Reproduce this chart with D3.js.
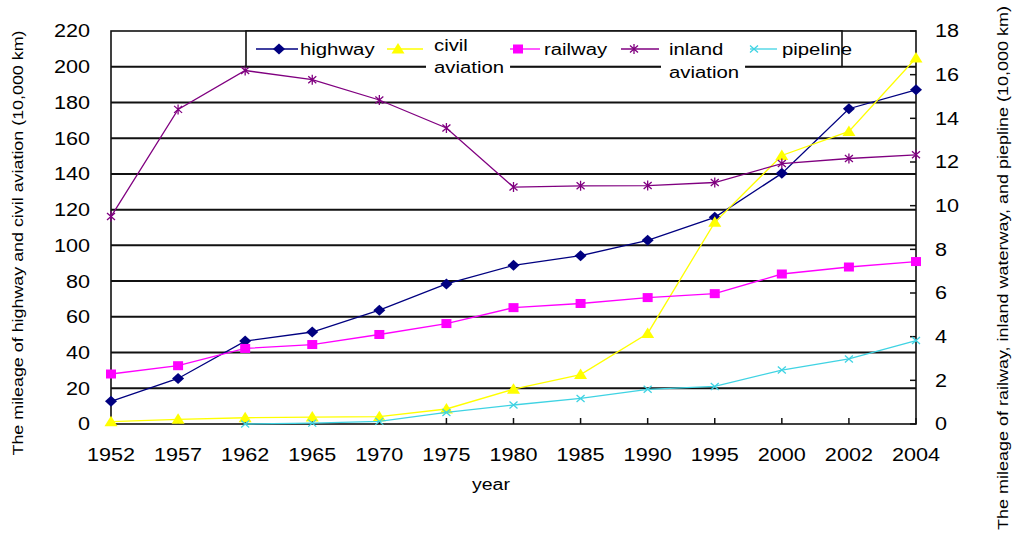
<!DOCTYPE html>
<html>
<head>
<meta charset="utf-8">
<script src="https://cdn.jsdelivr.net/npm/d3@7"></script>
<style>
  body { margin: 0; background: #fff; }
  text { font-family: Arial, "Liberation Sans", sans-serif; fill: #000; }
</style>
</head>
<body>
<div id="chart"></div>
<script>
// data (10,000 km)
var years = ["1952", "1957", "1962", "1965", "1970", "1975", "1980", "1985", "1990", "1995", "2000", "2002", "2004"];
var highway = [12.7, 25.5, 46.4, 51.5, 63.7, 78.4, 88.8, 94.2, 102.8, 115.7, 140.3, 176.5, 187.1];
var civilAviation = [1.3, 2.6, 3.5, 3.9, 4.1, 8.4, 19.5, 27.7, 50.7, 112.9, 150.3, 163.8, 204.9];
var railway = [2.29, 2.67, 3.46, 3.64, 4.10, 4.60, 5.33, 5.52, 5.79, 5.97, 6.87, 7.19, 7.44];
var inlandWaterway = [9.50, 14.41, 16.19, 15.77, 14.84, 13.56, 10.85, 10.91, 10.92, 11.06, 11.93, 12.16, 12.33];
var pipeline = [null, null, 0.0, 0.04, 0.12, 0.53, 0.87, 1.17, 1.59, 1.72, 2.47, 2.98, 3.82];

var seriesNames = ["highway", "civil aviation", "railway", "inland aviation", "pipeline"];
var leftTicks = [0, 20, 40, 60, 80, 100, 120, 140, 160, 180, 200, 220];
var rightTicks = [0, 2, 4, 6, 8, 10, 12, 14, 16, 18];

var leftTitle = "The mileage of highway and civil aviation (10,000 km)";
var rightTitle = "The mileage of railway, inland waterway, and piepline (10,000 km)";
var xTitle = "year";

function makeChart() {
    var svg = d3.select("#chart").append("svg")
        .attr("width", 1015)
        .attr("height", 534);

    var plot = { left: 111, right: 916, top: 31, bottom: 424 };

    // the picture is a bit wider than normal, so text is stretched sideways
    function stretch(sel, k) {
        sel.each(function() {
            var len = this.getComputedTextLength();
            d3.select(this).attr("textLength", len * k).attr("lengthAdjust", "spacingAndGlyphs");
        });
    }

    var x = d3.scalePoint().domain(years).range([plot.left, plot.right]);
    var yLeft = d3.scaleLinear().domain([0, 220]).range([plot.bottom, plot.top]);
    var yRight = d3.scaleLinear().domain([0, 18]).range([plot.bottom, plot.top]);

    // gridlines
    svg.append("g").selectAll("line")
        .data(leftTicks.filter(d => d > 0 && d < 220))
        .enter().append("line")
        .attr("x1", plot.left).attr("x2", plot.right)
        .attr("y1", d => yLeft(d)).attr("y2", d => yLeft(d))
        .attr("stroke", "#111").attr("stroke-width", 2);

    // plot border
    svg.append("rect")
        .attr("x", plot.left).attr("y", plot.top)
        .attr("width", plot.right - plot.left).attr("height", plot.bottom - plot.top)
        .attr("fill", "none").attr("stroke", "#111").attr("stroke-width", 1.6);

    // small tick marks: bottom (inside, up) and right (inside, left)
    svg.append("g").selectAll("line")
        .data(years)
        .enter().append("line")
        .attr("x1", d => x(d)).attr("x2", d => x(d))
        .attr("y1", plot.bottom).attr("y2", plot.bottom - 6)
        .attr("stroke", "#111").attr("stroke-width", 1.5);

    svg.append("g").selectAll("line")
        .data(rightTicks)
        .enter().append("line")
        .attr("x1", plot.right - 6).attr("x2", plot.right)
        .attr("y1", d => yRight(d)).attr("y2", d => yRight(d))
        .attr("stroke", "#111").attr("stroke-width", 1.5);

    // tick labels
    svg.append("g").selectAll("text")
        .data(leftTicks)
        .enter().append("text")
        .attr("x", 90)
        .attr("y", d => yLeft(d))
        .attr("dy", "0.36em")
        .attr("text-anchor", "end")
        .style("font-size", "18px")
        .text(d => d)
        .call(stretch, 1.2);

    svg.append("g").selectAll("text")
        .data(rightTicks)
        .enter().append("text")
        .attr("x", 935)
        .attr("y", d => yRight(d))
        .attr("dy", "0.36em")
        .style("font-size", "18px")
        .text(d => d)
        .call(stretch, 1.2);

    svg.append("g").selectAll("text")
        .data(years)
        .enter().append("text")
        .attr("x", d => x(d))
        .attr("y", 461)
        .attr("text-anchor", "middle")
        .style("font-size", "18px")
        .text(d => d)
        .call(stretch, 1.2);

    // axis titles
    svg.append("text")
        .attr("x", 491).attr("y", 490)
        .attr("text-anchor", "middle")
        .style("font-size", "16px")
        .text(xTitle)
        .call(stretch, 1.22);

    svg.append("text")
        .attr("transform", "translate(23, 243) rotate(-90)")
        .attr("text-anchor", "middle")
        .attr("textLength", 425).attr("lengthAdjust", "spacingAndGlyphs")
        .style("font-size", "14px")
        .text(leftTitle);

    svg.append("text")
        .attr("transform", "translate(1008, 268) rotate(-90)")
        .attr("text-anchor", "middle")
        .attr("textLength", 524).attr("lengthAdjust", "spacingAndGlyphs")
        .style("font-size", "14px")
        .text(rightTitle);

    // markers
    function marker(g, type, color) {
        if (type == "diamond") {
            g.append("path").attr("d", "M0,-5.5L6,0L0,5.5L-6,0Z").attr("fill", color);
        } else if (type == "triangle") {
            g.append("path").attr("d", "M0,-6L6.5,4.5L-6.5,4.5Z").attr("fill", color);
        } else if (type == "square") {
            g.append("rect").attr("x", -5).attr("y", -4.5).attr("width", 10).attr("height", 9).attr("fill", color);
        } else if (type == "star") {
            g.append("path").attr("d", "M-4,-3.5L4,3.5M-4,3.5L4,-3.5M0,-5L0,5")
                .attr("stroke", color).attr("stroke-width", 1.3);
        } else {
            g.append("path").attr("d", "M-4,-3.5L4,3.5M-4,3.5L4,-3.5")
                .attr("stroke", color).attr("stroke-width", 1.3);
        }
    }

    var series = [
        { name: seriesNames[0], values: highway, y: yLeft, color: "#000080", type: "diamond" },
        { name: seriesNames[1], values: civilAviation, y: yLeft, color: "#FFFF00", type: "triangle" },
        { name: seriesNames[2], values: railway, y: yRight, color: "#FF00FF", type: "square" },
        { name: seriesNames[3], values: inlandWaterway, y: yRight, color: "#800080", type: "star" },
        { name: seriesNames[4], values: pipeline, y: yRight, color: "#3FD3E3", type: "cross" }
    ];

    series.forEach(function(s) {
        var pts = years.map((yr, i) => ({ year: yr, v: s.values[i] }));
        var line = d3.line()
            .defined(d => d.v != null)
            .x(d => x(d.year))
            .y(d => s.y(d.v));

        svg.append("path")
            .datum(pts)
            .attr("fill", "none")
            .attr("stroke", s.color)
            .attr("stroke-width", 1.3)
            .attr("d", line);

        svg.append("g").selectAll("g")
            .data(pts.filter(d => d.v != null))
            .enter().append("g")
            .attr("transform", d => `translate(${x(d.year)},${s.y(d.v)})`)
            .each(function() { marker(d3.select(this), s.type, s.color); });
    });

    // legend
    var legendLineX = [[256, 298], [387, 423], [510, 540], [621, 659], [750, 777]];
    var legendMarkX = [279, 398, 518, 634, 754];
    var legendTextX = [300, 434, 544, 669, 782];
    var legendTextY = [[55], [51, 73], [55], [55, 78], [55]];

    var legend = svg.append("g");
    legend.append("rect")
        .attr("x", 246).attr("y", 31)
        .attr("width", 596).attr("height", 35.5)
        .attr("fill", "#fff").attr("stroke", "#111").attr("stroke-width", 1.6);

    series.forEach(function(s, i) {
        legend.append("line")
            .attr("x1", legendLineX[i][0]).attr("x2", legendLineX[i][1])
            .attr("y1", 49).attr("y2", 49)
            .attr("stroke", s.color).attr("stroke-width", 1.3);
        marker(legend.append("g").attr("transform", `translate(${legendMarkX[i]},49)`), s.type, s.color);

        var words = s.name.split(" ");
        words.forEach(function(w, j) {
            var t = legend.append("text")
                .attr("x", legendTextX[i])
                .attr("y", legendTextY[i][j])
                .style("font-size", "16px")
                .text(w)
                .call(stretch, 1.27);
            if (j > 0) {
                // second line hangs below the box and hides the gridline
                var b = t.node().getBBox();
                legend.insert("rect", "text")
                    .attr("x", b.x - 8).attr("y", b.y - 3)
                    .attr("width", b.width + 14).attr("height", b.height + 1)
                    .attr("fill", "#fff");
            }
        });
    });
}

makeChart();
</script>
</body>
</html>
